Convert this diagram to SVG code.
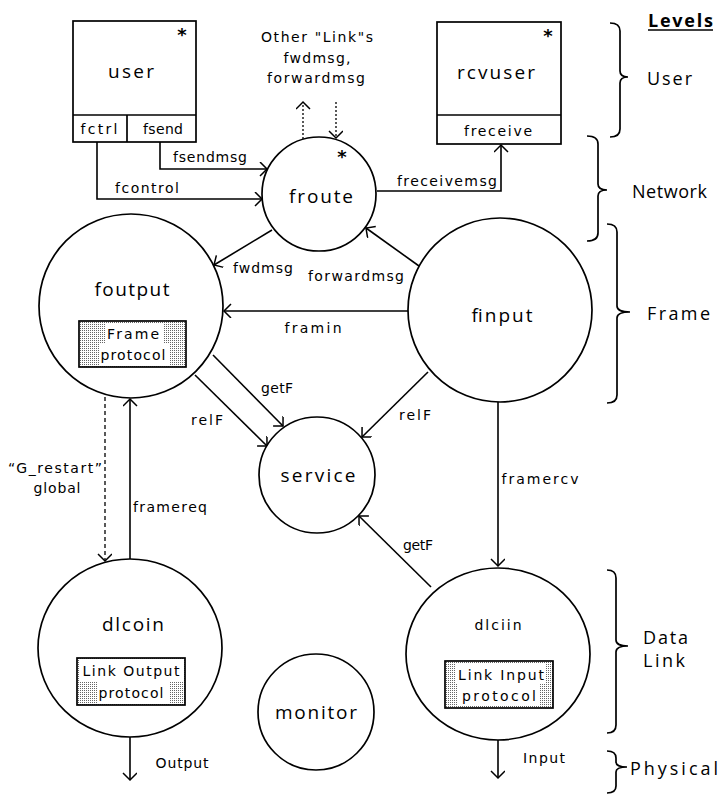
<svg xmlns="http://www.w3.org/2000/svg" width="721" height="795" viewBox="0 0 721 795">
<style>
  .shape { fill: none; stroke: #000; stroke-width: 1.7; }
  .node { fill: #fff; stroke: #000; stroke-width: 1.7; }
  .line { fill: none; stroke: #000; stroke-width: 1.6; }
  .dot { fill: none; stroke: #000; stroke-width: 1.3; stroke-dasharray: 2,2; }
  .dash { fill: none; stroke: #000; stroke-width: 1.3; stroke-dasharray: 4,3; }
  .big { font-family: "Open Sans", "DejaVu Sans", sans-serif; font-size: 19px; text-anchor: middle; dominant-baseline: central; }
  .lbl { font-family: "DejaVu Sans", sans-serif; font-size: 14px; text-anchor: middle; dominant-baseline: central; }
  .lvl { font-family: "Open Sans", "DejaVu Sans", sans-serif; font-size: 18px; dominant-baseline: central; }
  .ast { font-family: "DejaVu Sans", sans-serif; font-size: 18px; font-weight: bold; text-anchor: middle; dominant-baseline: central; }
  .white { fill: #fff; stroke: none; }
</style>
<defs>
  <marker id="arr" markerUnits="userSpaceOnUse" markerWidth="16" markerHeight="16" refX="10" refY="7" orient="auto">
    <path d="M3,0 L10,7 L3,14" fill="none" stroke="#000" stroke-width="1.5"/>
  </marker>
  <pattern id="stip" width="2" height="2" patternUnits="userSpaceOnUse">
    <rect width="2" height="2" fill="#fff"/>
    <rect width="1" height="1" fill="#666"/>
  </pattern>
</defs>
<rect width="721" height="795" fill="#fff"/>

<g id="connectors">
  <!-- fcontrol -->
  <polyline class="line" points="97,142 97,199 262,199" marker-end="url(#arr)"/>
  <text class="lbl" x="147" y="188" textLength="64" lengthAdjust="spacing">fcontrol</text>
  <!-- fsendmsg -->
  <polyline class="line" points="160,142 160,169 267,169" marker-end="url(#arr)"/>
  <text class="lbl" x="210" y="157" textLength="74" lengthAdjust="spacing">fsendmsg</text>
  <!-- other links -->
  <line class="dot" x1="303" y1="139" x2="303" y2="102" marker-end="url(#arr)"/>
  <line class="dot" x1="336" y1="102" x2="336" y2="138" marker-end="url(#arr)"/>
  <text class="lbl" x="317" y="37" textLength="112" lengthAdjust="spacing">Other "Link"s</text>
  <text class="lbl" x="317" y="58" textLength="67" lengthAdjust="spacing">fwdmsg,</text>
  <text class="lbl" x="316" y="78" textLength="98" lengthAdjust="spacing">forwardmsg</text>
  <!-- freceivemsg -->
  <polyline class="line" points="377,191 501,191 501,145" marker-end="url(#arr)"/>
  <text class="lbl" x="447" y="181" textLength="100" lengthAdjust="spacing">freceivemsg</text>
  <!-- fwdmsg -->
  <line class="line" x1="272" y1="230" x2="214" y2="265" marker-end="url(#arr)"/>
  <text class="lbl" x="263" y="268" textLength="60" lengthAdjust="spacing">fwdmsg</text>
  <!-- forwardmsg -->
  <line class="line" x1="419" y1="266" x2="366" y2="228" marker-end="url(#arr)"/>
  <text class="lbl" x="356" y="276" textLength="96" lengthAdjust="spacing">forwardmsg</text>
  <!-- framin -->
  <line class="line" x1="408" y1="311" x2="224" y2="311" marker-end="url(#arr)"/>
  <text class="lbl" x="313" y="328" textLength="57" lengthAdjust="spacing">framin</text>
  <!-- getF foutput -> service -->
  <line class="line" x1="213" y1="355" x2="283" y2="426" marker-end="url(#arr)"/>
  <text class="lbl" x="277" y="388" textLength="32" lengthAdjust="spacing">getF</text>
  <!-- relF foutput -> service -->
  <line class="line" x1="195" y1="375" x2="267" y2="446" marker-end="url(#arr)"/>
  <text class="lbl" x="207" y="420" textLength="32" lengthAdjust="spacing">relF</text>
  <!-- relF finput -> service -->
  <line class="line" x1="428" y1="372" x2="362" y2="437" marker-end="url(#arr)"/>
  <text class="lbl" x="415" y="415" textLength="32" lengthAdjust="spacing">relF</text>
  <!-- getF dlciin -> service -->
  <line class="line" x1="431" y1="587" x2="359" y2="516" marker-end="url(#arr)"/>
  <text class="lbl" x="418" y="545" textLength="30" lengthAdjust="spacing">getF</text>
  <!-- framercv -->
  <line class="line" x1="498" y1="402" x2="498" y2="566" marker-end="url(#arr)"/>
  <text class="lbl" x="540" y="479" textLength="77" lengthAdjust="spacing">framercv</text>
  <!-- G_restart -->
  <line class="dash" x1="105" y1="397" x2="105" y2="561" marker-end="url(#arr)"/>
  <text class="lbl" x="55" y="468" textLength="94" lengthAdjust="spacing">“G_restart”</text>
  <text class="lbl" x="57" y="488" textLength="47" lengthAdjust="spacing">global</text>
  <!-- framereq -->
  <line class="line" x1="130" y1="560" x2="130" y2="399" marker-end="url(#arr)"/>
  <text class="lbl" x="170" y="507" textLength="74" lengthAdjust="spacing">framereq</text>
  <!-- Output -->
  <line class="line" x1="130" y1="737" x2="130" y2="780" marker-end="url(#arr)"/>
  <text class="lbl" x="182" y="763" textLength="53" lengthAdjust="spacing">Output</text>
  <!-- Input -->
  <line class="line" x1="498" y1="740" x2="498" y2="778" marker-end="url(#arr)"/>
  <text class="lbl" x="544" y="758" textLength="42" lengthAdjust="spacing">Input</text>
</g>

<g id="user">
  <rect class="node" x="73" y="21" width="123" height="121"/>
  <line class="shape" x1="73" y1="115" x2="196" y2="115"/>
  <line class="shape" x1="127" y1="115" x2="127" y2="142"/>
  <text class="big" x="131" y="71" textLength="46" lengthAdjust="spacing">user</text>
  <text class="ast" x="182" y="34">*</text>
  <text class="lbl" x="99" y="129" textLength="37" lengthAdjust="spacing">fctrl</text>
  <text class="lbl" x="163" y="129" textLength="40" lengthAdjust="spacing">fsend</text>
</g>

<g id="rcvuser">
  <rect class="node" x="437" y="22" width="124" height="122"/>
  <line class="shape" x1="437" y1="115" x2="561" y2="115"/>
  <text class="big" x="496" y="72" textLength="78" lengthAdjust="spacing">rcvuser</text>
  <text class="ast" x="548" y="35">*</text>
  <text class="lbl" x="498" y="131" textLength="68" lengthAdjust="spacing">freceive</text>
</g>

<g id="froute">
  <circle class="node" cx="319" cy="194" r="57"/>
  <text class="big" x="321" y="196" textLength="64" lengthAdjust="spacing">froute</text>
  <text class="ast" x="342" y="156">*</text>
</g>

<g id="foutput">
  <circle class="node" cx="131" cy="306" r="92"/>
  <text class="big" x="132" y="289" textLength="75" lengthAdjust="spacing">foutput</text>
  <rect x="79" y="321" width="107" height="46" fill="url(#stip)" stroke="#000" stroke-width="1.7"/>
  <rect class="white" x="106" y="323" width="57" height="20"/>
  <rect class="white" x="99" y="343" width="70" height="22"/>
  <text class="lbl" x="133" y="334" textLength="52" lengthAdjust="spacing">Frame</text>
  <text class="lbl" x="133" y="355" textLength="65" lengthAdjust="spacing">protocol</text>
</g>

<g id="finput">
  <circle class="node" cx="500" cy="310" r="92"/>
  <text class="big" x="502" y="315" textLength="61" lengthAdjust="spacing">finput</text>
</g>

<g id="service">
  <circle class="node" cx="317" cy="475" r="58"/>
  <text class="big" x="318" y="475" textLength="75" lengthAdjust="spacing">service</text>
</g>

<g id="dlcoin">
  <ellipse class="node" cx="130" cy="648" rx="92" ry="89"/>
  <text class="big" x="133" y="624" textLength="62" lengthAdjust="spacing">dlcoin</text>
  <rect x="77" y="658" width="108" height="47" fill="url(#stip)" stroke="#000" stroke-width="1.7"/>
  <rect class="white" x="80" y="660" width="103" height="21"/>
  <rect class="white" x="97" y="681" width="73" height="22"/>
  <text class="lbl" x="131" y="671" textLength="97" lengthAdjust="spacing">Link Output</text>
  <text class="lbl" x="131" y="693" textLength="65" lengthAdjust="spacing">protocol</text>
</g>

<g id="dlciin">
  <ellipse class="node" cx="498" cy="654" rx="92" ry="86"/>
  <text class="lbl" x="498" y="625" textLength="47" lengthAdjust="spacing">dlciin</text>
  <rect x="445" y="661" width="108" height="47" fill="url(#stip)" stroke="#000" stroke-width="1.7"/>
  <rect class="white" x="456" y="663" width="89" height="21"/>
  <rect class="white" x="457" y="684" width="82" height="22"/>
  <text class="lbl" x="501" y="675" textLength="86" lengthAdjust="spacing">Link Input</text>
  <text class="lbl" x="499" y="696" textLength="74" lengthAdjust="spacing">protocol</text>
</g>

<g id="monitor">
  <circle class="node" cx="316" cy="712" r="58"/>
  <text class="big" x="316" y="712" textLength="82" lengthAdjust="spacing">monitor</text>
</g>

<g id="levels">
  <text class="lvl" x="648" y="20" font-weight="bold" font-size="16" textLength="65" lengthAdjust="spacing">Levels</text>
  <line x1="648" y1="30" x2="713" y2="30" stroke="#000" stroke-width="1.5"/>
  <path class="shape" d="M610,23 Q620,23 620,31 L620,71 Q620,77 628,77 Q620,77 620,83 L620,129 Q620,137 610,137"/>
  <text class="lvl" x="647" y="78" textLength="45" lengthAdjust="spacing">User</text>
  <path class="shape" d="M587,136 Q598,136 598,144 L598,184 Q598,190 607,190 Q598,190 598,196 L598,233 Q598,241 587,241"/>
  <text class="lvl" x="632" y="191" textLength="75" lengthAdjust="spacing">Network</text>
  <path class="shape" d="M607,224 Q617,224 617,232 L617,306 Q617,312 630,312 Q617,312 617,318 L617,395 Q617,403 607,403"/>
  <text class="lvl" x="647" y="313" textLength="63" lengthAdjust="spacing">Frame</text>
  <path class="shape" d="M607,570 Q616,570 616,578 L616,640 Q616,646 628,646 Q616,646 616,652 L616,725 Q616,733 607,733"/>
  <text class="lvl" x="643" y="637" textLength="45" lengthAdjust="spacing">Data</text>
  <text class="lvl" x="643" y="660" textLength="42" lengthAdjust="spacing">Link</text>
  <path class="shape" d="M607,751 Q616,751 616,758 L616,762 Q616,767 627,767 Q616,767 616,772 L616,786 Q616,793 607,793"/>
  <text class="lvl" x="630" y="768" textLength="88" lengthAdjust="spacing">Physical</text>
</g>
</svg>
